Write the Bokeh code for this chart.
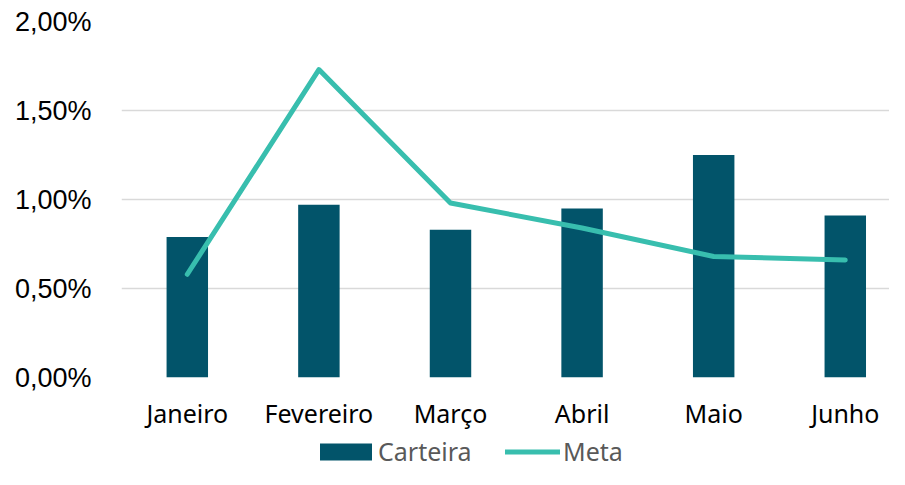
from bokeh.plotting import figure
from bokeh.layouts import column
from bokeh.models import Range1d, FixedTicker, Legend, LegendItem, ColumnDataSource, CustomJSTickFormatter
from bokeh.embed import file_html
from bokeh.resources import INLINE

months = ["Janeiro", "Fevereiro", "Março", "Abril", "Maio", "Junho"]
carteira = [0.79, 0.97, 0.83, 0.95, 1.25, 0.91]
meta = [0.58, 1.73, 0.98, 0.84, 0.68, 0.66]
y_ticks = [0.0, 0.5, 1.0, 1.5, 2.0]

BAR_COLOR = "#02546A"
LINE_COLOR = "#38BEAE"

xs = list(range(len(months)))
src = ColumnDataSource(dict(x=xs, carteira=carteira, meta=meta))

p = figure(width=889, height=432, output_backend="svg", toolbar_location=None,
           x_range=Range1d(-0.5, 5.336), y_range=Range1d(0, 2.0),
           min_border_left=121, min_border_right=0, min_border_top=21, min_border_bottom=55)
p.outline_line_color = None
p.background_fill_color = "white"

p.vbar(x="x", top="carteira", width=0.315, source=src, fill_color=BAR_COLOR, line_color=None)
p.line(x="x", y="meta", source=src, line_color=LINE_COLOR, line_width=5, line_cap="round", line_join="round")

p.xgrid.grid_line_color = None
p.ygrid.grid_line_color = "#D9D9D9"
p.ygrid.grid_line_width = 1.5
p.yaxis.ticker = FixedTicker(ticks=y_ticks)
p.yaxis.formatter = CustomJSTickFormatter(code="return tick.toFixed(2).replace('.', ',') + '%';")
p.xaxis.ticker = FixedTicker(ticks=xs)
p.xaxis.major_label_overrides = {i: m for i, m in enumerate(months)}
for ax in (p.xaxis[0], p.yaxis[0]):
    ax.axis_line_color = None
    ax.major_tick_line_color = None
    ax.minor_tick_line_color = None
    ax.major_label_text_color = "black"
p.yaxis.major_label_text_font = "Liberation Sans"
p.yaxis.major_label_text_font_size = "27px"
p.yaxis.major_label_standoff = 24
p.xaxis.major_label_text_font = "Noto Sans"
p.xaxis.major_label_text_font_size = "25px"
p.xaxis.major_label_standoff = 12

# legend strip (its frame is aligned with the chart's frame by the column layout)
lg = figure(width=889, height=37, output_backend="svg", toolbar_location=None,
            x_axis_location=None, y_axis_location=None,
            x_range=Range1d(100, 101), y_range=Range1d(100, 101),
            min_border_left=0, min_border_right=0, min_border_top=0, min_border_bottom=0)
lg.outline_line_color = None
lg.xgrid.grid_line_color = None
lg.ygrid.grid_line_color = None
# proxies share the data but lie outside this strip's ranges, so only their legend glyphs show
bar_proxy = lg.vbar(x="x", top="carteira", width=0.315, source=src, fill_color=BAR_COLOR, line_color=None)
line_proxy = lg.line(x="x", y="meta", source=src, line_color=LINE_COLOR, line_width=5, line_cap="round")

common = dict(orientation="horizontal", label_text_font="Noto Sans", label_text_font_size="25px",
              label_text_color="#595959", glyph_height=21, label_height=21, border_line_color=None,
              background_fill_alpha=0, padding=0, margin=0)
leg1 = Legend(items=[LegendItem(label="Carteira", renderers=[bar_proxy])], location=(192, 1),
              glyph_width=65, label_standoff=0, **common)
leg2 = Legend(items=[LegendItem(label="Meta", renderers=[line_proxy])], location=(384, 1),
              glyph_width=55, label_standoff=3, **common)
lg.add_layout(leg1, "center")
lg.add_layout(leg2, "center")

open("out.html", "w").write(file_html(column(p, lg, spacing=0), INLINE))
